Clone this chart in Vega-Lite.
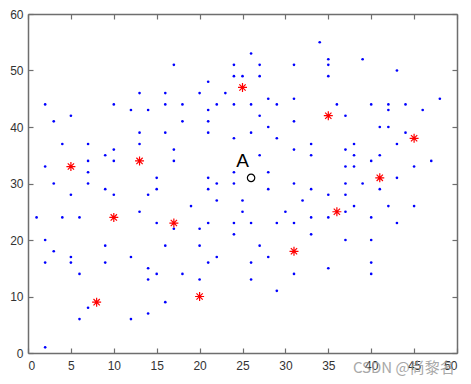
{
  "$schema": "https://vega.github.io/schema/vega-lite/v6.json",
  "width": 429,
  "height": 339,
  "autosize": {"type": "none"},
  "padding": {"left": 28, "top": 14, "right": 14, "bottom": 31},
  "background": "white",
  "config": {
    "view": {"stroke": null},
    "axis": {
      "grid": false,
      "title": null,
      "labelFont": "Liberation Sans",
      "labelFontSize": 12,
      "labelColor": "#333333",
      "domainColor": "#6e6e6e",
      "domainWidth": 1.5,
      "tickColor": "#6e6e6e",
      "tickWidth": 1.2
    }
  },
  "datasets": {
    "blue": [
      {"x":2,"y":44},{"x":3,"y":41},{"x":5,"y":42},{"x":10,"y":44},{"x":12,"y":43},{"x":13,"y":46},{"x":14,"y":43},
      {"x":26,"y":53},{"x":17,"y":51},{"x":24,"y":51},{"x":27,"y":51},{"x":31,"y":51},{"x":24,"y":49},{"x":25,"y":49},{"x":27,"y":49},{"x":21,"y":48},{"x":16,"y":46},{"x":20,"y":46},{"x":23,"y":46},{"x":28,"y":45},{"x":31,"y":45},{"x":16,"y":44},{"x":18,"y":44},{"x":22,"y":44},{"x":24,"y":44},{"x":26,"y":44},{"x":29,"y":44},{"x":21,"y":43},{"x":27,"y":42},{"x":18,"y":41},{"x":21,"y":41},{"x":31,"y":41},{"x":28,"y":40},
      {"x":34,"y":55},{"x":35,"y":52},{"x":39,"y":52},{"x":35,"y":51},{"x":35,"y":49},{"x":43,"y":50},{"x":48,"y":45},{"x":36,"y":44},{"x":40,"y":44},{"x":42,"y":44},{"x":44,"y":44},{"x":42,"y":43},{"x":46,"y":43},{"x":37,"y":42},{"x":41,"y":40},{"x":42,"y":40},
      {"x":4,"y":37},{"x":7,"y":37},{"x":13,"y":39},{"x":13,"y":37},{"x":10,"y":36},{"x":9,"y":35},{"x":2,"y":33},{"x":7,"y":34},{"x":10,"y":34},{"x":7,"y":32},{"x":3,"y":30},{"x":7,"y":30},{"x":15,"y":31},{"x":15,"y":29},{"x":9,"y":29},{"x":5,"y":28},{"x":10,"y":28},{"x":14,"y":28},{"x":1,"y":24},{"x":4,"y":24},{"x":6,"y":24},{"x":13,"y":25},{"x":15,"y":23},{"x":2,"y":20},{"x":9,"y":19},
      {"x":3,"y":18},{"x":5,"y":17},{"x":2,"y":16},{"x":5,"y":16},{"x":9,"y":16},{"x":12,"y":17},{"x":6,"y":14},{"x":14,"y":15},{"x":14,"y":13},{"x":15,"y":14},{"x":7,"y":8},{"x":6,"y":6},{"x":12,"y":6},{"x":14,"y":7},{"x":2,"y":1},
      {"x":16,"y":39},{"x":21,"y":39},{"x":24,"y":38},{"x":26,"y":39},{"x":29,"y":38},{"x":17,"y":36},{"x":27,"y":35},{"x":31,"y":36},{"x":17,"y":34},{"x":24,"y":32},{"x":28,"y":32},{"x":21,"y":31},{"x":22,"y":30},{"x":24,"y":30},{"x":31,"y":30},{"x":21,"y":29},{"x":28,"y":29},{"x":22,"y":27},{"x":25,"y":27},{"x":32,"y":27},{"x":19,"y":26},{"x":25,"y":25},{"x":30,"y":25},{"x":21,"y":23},{"x":24,"y":23},{"x":26,"y":23},{"x":29,"y":23},{"x":31,"y":23},{"x":17,"y":22},{"x":20,"y":22},{"x":24,"y":21},{"x":16,"y":19},{"x":20,"y":19},{"x":27,"y":19},{"x":33,"y":37},
      {"x":44,"y":39},{"x":37,"y":36},{"x":38,"y":37},{"x":43,"y":37},{"x":33,"y":35},{"x":38,"y":35},{"x":41,"y":35},{"x":40,"y":34},{"x":47,"y":34},{"x":37,"y":33},{"x":38,"y":33},{"x":45,"y":33},{"x":37,"y":30},{"x":39,"y":30},{"x":43,"y":31},{"x":33,"y":29},{"x":41,"y":29},{"x":35,"y":28},{"x":37,"y":28},{"x":38,"y":26},{"x":42,"y":26},{"x":45,"y":26},{"x":37,"y":25},{"x":33,"y":24},{"x":35,"y":24},{"x":40,"y":24},{"x":43,"y":23},{"x":33,"y":21},{"x":37,"y":20},{"x":40,"y":20},
      {"x":35,"y":15},{"x":40,"y":16},{"x":40,"y":14},
      {"x":22,"y":17},{"x":21,"y":16},{"x":28,"y":17},{"x":26,"y":16},{"x":18,"y":14},{"x":20,"y":13},{"x":26,"y":13},{"x":31,"y":14},{"x":29,"y":11},{"x":16,"y":9}
    ],
    "red": [
      {"x":25,"y":47},{"x":35,"y":42},{"x":5,"y":33},{"x":13,"y":34},{"x":10,"y":24},{"x":17,"y":23},
      {"x":36,"y":25},{"x":41,"y":31},{"x":45,"y":38},{"x":31,"y":18},{"x":20,"y":10},{"x":8,"y":9}
    ],
    "circle": [{"x":26,"y":31}],
    "labels": [{"x":25,"y":33.9,"label":"A"}],
    "mark": [{"x":43.8,"y":-2.6,"label":"CSDN @尚黎名"}]
  },
  "layer": [
    {
      "data": {"name": "blue"},
      "mark": {"type": "point", "shape": "circle", "filled": true, "size": 7, "color": "#0000ff", "opacity": 1},
      "encoding": {
        "x": {"field": "x", "type": "quantitative", "scale": {"domain": [0, 50], "nice": false, "zero": false},
              "axis": {"orient": "bottom", "values": [0,5,10,15,20,25,30,35,40,45,50], "tickSize": -5, "labelPadding": 12}},
        "y": {"field": "y", "type": "quantitative", "scale": {"domain": [0, 60], "nice": false, "zero": false},
              "axis": {"orient": "left", "values": [0,10,20,30,40,50,60], "tickSize": -5, "labelPadding": 10}}
      }
    },
    {
      "data": {"name": "red"},
      "mark": {"type": "point", "shape": "M-1,0L1,0M0,-1L0,1M-0.7,-0.7L0.7,0.7M-0.7,0.7L0.7,-0.7", "filled": false, "size": 81, "color": "#ff0000", "strokeWidth": 1.2, "opacity": 1},
      "encoding": {
        "x": {"field": "x", "type": "quantitative", "axis": {"orient": "top", "values": [0,5,10,15,20,25,30,35,40,45,50], "labels": false, "tickSize": -5}},
        "y": {"field": "y", "type": "quantitative", "axis": {"orient": "right", "values": [0,10,20,30,40,50,60], "labels": false, "tickSize": -5}}
      }
    },
    {
      "data": {"name": "circle"},
      "mark": {"type": "point", "shape": "circle", "filled": false, "size": 55, "color": "#000000", "strokeWidth": 1.2, "opacity": 1},
      "encoding": {
        "x": {"field": "x", "type": "quantitative", "axis": null},
        "y": {"field": "y", "type": "quantitative", "axis": null}
      }
    },
    {
      "data": {"name": "labels"},
      "mark": {"type": "text", "font": "Liberation Sans", "fontSize": 19, "color": "#000000", "align": "center", "baseline": "middle"},
      "encoding": {
        "x": {"field": "x", "type": "quantitative", "axis": null},
        "y": {"field": "y", "type": "quantitative", "axis": null},
        "text": {"field": "label"}
      }
    },
    {
      "data": {"name": "mark"},
      "mark": {"type": "text", "font": "Noto Sans CJK SC", "fontSize": 15, "color": "#9a9a9a", "opacity": 0.85, "align": "center", "baseline": "middle"},
      "encoding": {
        "x": {"field": "x", "type": "quantitative", "axis": null},
        "y": {"field": "y", "type": "quantitative", "axis": null},
        "text": {"field": "label"}
      }
    }
  ],
  "resolve": {"axis": {"x": "independent", "y": "independent"}}
}
